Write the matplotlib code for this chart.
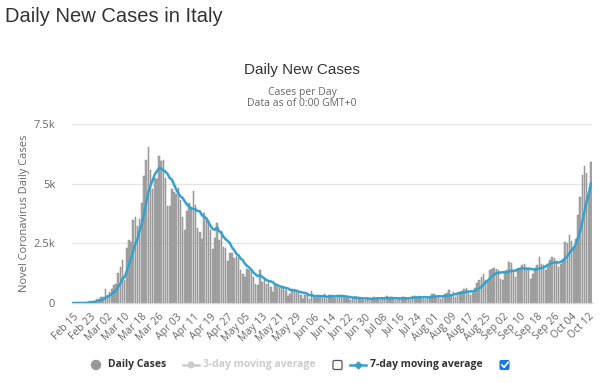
import numpy as np
import pandas as pd
import matplotlib
matplotlib.use("Agg")
import matplotlib.pyplot as plt
from matplotlib.patches import FancyBboxPatch, Circle
from matplotlib.lines import Line2D

# ---------------- data ----------------
start_date = "2020-02-15"
end_date = "2020-10-13"

feb_cases = [0, 0, 0, 0, 0, 0, 17, 59, 78, 72, 94, 147, 185, 234, 239]
mar_cases = [566, 342, 466, 587, 769, 778, 1247, 1492, 1797, 977, 2313, 2651, 2547, 3497, 3590,
             3233, 3526, 4207, 5322, 5986, 6557, 5560, 4789, 5249, 5210, 6153, 5959, 5974, 5217,
             4050, 4053]
apr_cases = [4782, 4668, 4585, 4805, 4316, 3599, 3039, 3836, 4204, 3951, 4694, 4092, 3153, 2972,
             2667, 3786, 3493, 3491, 3047, 2256, 2729, 3370, 2646, 3021, 2357, 2324, 1739, 2091,
             2086, 1872]
may_cases = [1965, 1900, 1389, 1221, 1075, 1444, 1401, 1327, 1083, 802, 744, 1402, 888, 992, 789,
             875, 675, 451, 813, 665, 642, 652, 669, 531, 300, 397, 584, 593, 516, 416, 355]
jun_cases = [178, 318, 321, 177, 518, 270, 197, 280, 283, 202, 379, 163, 346, 338, 301, 210, 328,
             331, 251, 262, 224, 218, 122, 190, 296, 259, 175, 174, 126, 142]
jul_cases = [187, 201, 223, 235, 192, 208, 138, 193, 229, 276, 188, 234, 169, 114, 162, 230, 233,
             249, 218, 190, 129, 282, 306, 252, 275, 255, 170, 181, 212, 289, 386]
aug_cases = [379, 295, 239, 159, 190, 384, 402, 552, 347, 463, 259, 412, 481, 523, 574, 629, 479,
             320, 403, 642, 845, 947, 1071, 1210, 953, 878, 1367, 1411, 1462, 1444, 1365]
sep_cases = [996, 978, 1326, 1397, 1733, 1695, 1297, 1108, 1370, 1434, 1597, 1616, 1501, 1458,
             1008, 1229, 1452, 1585, 1907, 1638, 1587, 1392, 1640, 1786, 1912, 1869, 1766, 1494,
             1648, 1851]
oct_cases = [2548, 2499, 2844, 2578, 2257, 2677, 3678, 4458, 5372, 5724, 5456, 4619, 5901]

y_ticks = [0, 2500, 5000, 7500]
y_tick_labels = ["0", "2.5k", "5k", "7.5k"]

dates = pd.date_range(start_date, end_date, freq="D")
daily_cases = np.array(feb_cases + mar_cases + apr_cases + may_cases + jun_cases + jul_cases +
                       aug_cases + sep_cases + oct_cases, dtype=float)
avg7 = pd.Series(daily_cases).rolling(7, min_periods=1).mean().to_numpy()
categories = [d.strftime("%b %d") for d in dates]

# ---------------- figure ----------------
W, H = 600, 383
fig = plt.figure(figsize=(W / 100, H / 100), dpi=100)
fig.patch.set_facecolor("white")

font_main = ["Liberation Sans", "DejaVu Sans"]
font_small = ["Open Sans", "DejaVu Sans"]

ax = fig.add_axes([72 / W, 1 - 303 / H, 520 / W, 179 / H])
x = np.arange(len(daily_cases))
ax.bar(x, daily_cases, width=0.72, color="#a9a9a9", edgecolor="#8a8a8a", linewidth=0.35, zorder=2)
ax.plot(x, avg7, color="#36a2cc", linewidth=1.8, zorder=3, solid_capstyle="round")

ax.set_xlim(-0.5, len(x) - 0.5)
ax.set_ylim(0, 7500)
ax.set_yticks(y_ticks)
ax.set_yticklabels(y_tick_labels, fontfamily=font_small, fontsize=8, color="#666666")
ax.yaxis.grid(True, color="#e6e6e6", linewidth=1, zorder=0)
ax.set_axisbelow(True)
ax.tick_params(axis="y", length=0, pad=12)

tick_idx = list(range(0, len(x), 8))
ax.set_xticks(tick_idx)
ax.set_xticklabels([categories[i] for i in tick_idx], rotation=45, ha="right",
                   rotation_mode="anchor", fontfamily=font_small, fontsize=7.5, color="#666666")
ax.tick_params(axis="x", length=0, pad=6)

for s in ["top", "right", "left"]:
    ax.spines[s].set_visible(False)
ax.spines["bottom"].set_color("#ccd6eb")
ax.spines["bottom"].set_linewidth(1)

ax.set_ylabel("Novel Coronavirus Daily Cases", fontfamily=font_small, fontsize=8,
              color="#666666")
ax.yaxis.set_label_coords(-0.08, 0.5)

# ---------------- titles ----------------
fig.text(5 / W, 1 - 17 / H, "Daily New Cases in Italy", fontfamily=font_main, fontsize=14.5,
         color="#333333", ha="left", va="center")
fig.text(302 / W, 1 - 70 / H, "Daily New Cases", fontfamily=font_main, fontsize=11,
         color="#333333", ha="center", va="center")
fig.text(302 / W, 1 - 92 / H, "Cases per Day", fontfamily=font_small, fontsize=7.5,
         color="#666666", ha="center", va="center")
fig.text(302 / W, 1 - 104 / H, "Data as of 0:00 GMT+0", fontfamily=font_small, fontsize=7.5,
         color="#666666", ha="center", va="center")

# ---------------- legend (overlay in pixel coordinates) ----------------
lax = fig.add_axes([0, 0, 1, 1], facecolor="none")
lax.set_xlim(0, W)
lax.set_ylim(H, 0)
lax.axis("off")
ly = 365
lax.add_patch(Circle((96, ly), 4.5, color="#999999"))
lax.text(108, ly, "Daily Cases", fontfamily=font_small, fontsize=7.5, fontweight="bold",
         color="#333333", va="center", ha="left")
lax.add_line(Line2D([183, 199], [ly, ly], color="#cccccc", linewidth=1.8))
lax.add_patch(Circle((191, ly), 2.8, color="#cccccc"))
lax.text(203, ly, "3-day moving average", fontfamily=font_small, fontsize=7.5,
         fontweight="bold", color="#cccccc", va="center", ha="left")
lax.add_patch(FancyBboxPatch((333, ly - 4.5), 9, 9, boxstyle="round,pad=0,rounding_size=1.5",
                             facecolor="white", edgecolor="#555555", linewidth=0.9))
lax.add_line(Line2D([350, 366], [ly, ly], color="#36a2cc", linewidth=1.8))
lax.add_line(Line2D([358], [ly], marker="D", markersize=3.5, color="#36a2cc"))
lax.text(370, ly, "7-day moving average", fontfamily=font_small, fontsize=7.5,
         fontweight="bold", color="#333333", va="center", ha="left")
lax.add_patch(FancyBboxPatch((500, ly - 4.5), 9, 9, boxstyle="round,pad=0,rounding_size=1.5",
                             facecolor="#1a73e8", edgecolor="#1a73e8", linewidth=0.8))
lax.add_line(Line2D([502, 504, 508], [ly, ly + 2.3, ly - 2.5], color="white", linewidth=1.3))

fig.savefig("out.png", dpi=100, facecolor="white")
